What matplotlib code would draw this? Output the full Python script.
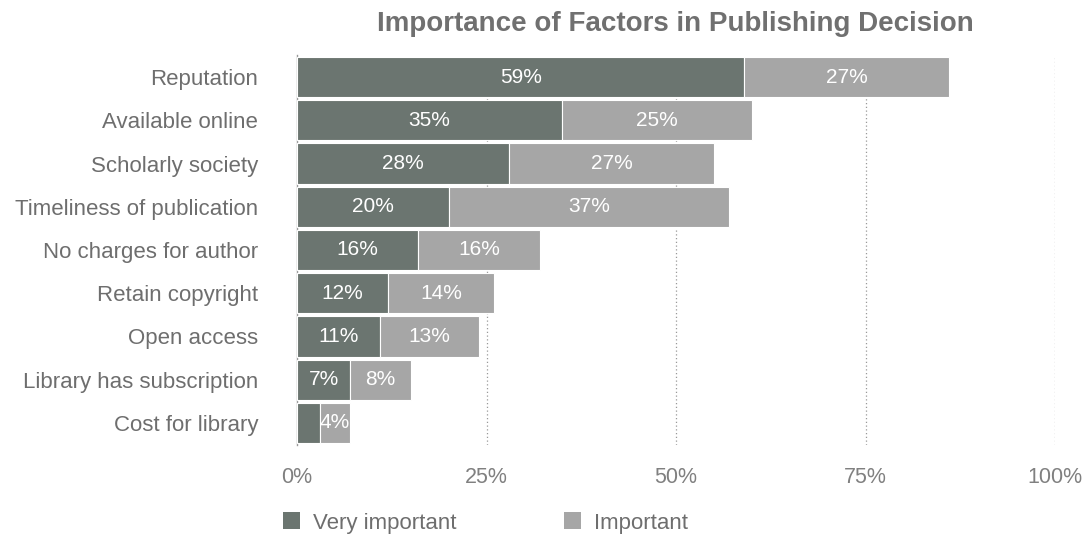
import matplotlib
matplotlib.use("Agg")
import matplotlib.pyplot as plt
from matplotlib.patches import Patch

plt.rcParams['font.family'] = ['Liberation Sans', 'DejaVu Sans']

categories = ["Reputation", "Available online", "Scholarly society",
              "Timeliness of publication", "No charges for author",
              "Retain copyright", "Open access", "Library has subscription",
              "Cost for library"]
very_important = [59, 35, 28, 20, 16, 12, 11, 7, 3]
important = [27, 25, 27, 37, 16, 14, 13, 8, 4]
xticks = [0, 25, 50, 75, 100]
xtick_labels = ["0%", "25%", "50%", "75%", "100%"]

dark = "#6b7570"
light = "#a6a6a6"
txt = "#808080"

fig = plt.figure(figsize=(10.86, 5.36), dpi=100)
ax = fig.add_axes([0.2735, 0.1707, 0.698, 0.7258])

y = list(range(len(categories)))
ax.barh(y, very_important, height=0.93, color=dark, edgecolor="white", linewidth=0.8, zorder=3)
ax.barh(y, important, left=very_important, height=0.93, color=light, edgecolor="white", linewidth=0.8, zorder=3)

for i in y:
    v = very_important[i]
    if v >= 5:
        ax.text(v / 2, i, f"{v}%", ha="center", va="center", color="white", fontsize=15, zorder=4)
    w = important[i]
    ax.text(v + w / 2, i, f"{w}%", ha="center", va="center", color="white", fontsize=15, zorder=4)

ax.set_xlim(0, 100)
ax.set_ylim(len(categories) - 0.5, -0.5)
ax.set_xticks(xticks)
ax.set_xticklabels(xtick_labels, fontsize=15.5, color=txt)
ax.set_yticks(y)
ax.set_yticklabels(categories, fontsize=16, color="#6e6e6e")
ax.tick_params(axis="both", length=0)
ax.tick_params(axis="x", pad=16)
ax.tick_params(axis="y", pad=28)

for s in ["top", "right", "bottom"]:
    ax.spines[s].set_visible(False)
ax.spines["left"].set_color("#999999")
ax.spines["left"].set_linewidth(1)

for xv in xticks[1:]:
    ax.axvline(xv, color="#999999", linestyle=(0, (1, 2)), linewidth=0.9, zorder=1)

fig.text(0.6215, 0.955, "Importance of Factors in Publishing Decision", ha="center", va="center",
         fontsize=20, fontweight="bold", color="#707070")

handles = [Patch(facecolor=dark, edgecolor="none"), Patch(facecolor=light, edgecolor="none")]
leg = fig.legend(handles, ["Very important", "Important"], loc="center left",
                 bbox_to_anchor=(0.242, 0.0243), ncol=2, frameon=False, fontsize=16,
                 handlelength=0.78, handleheight=0.8, handletextpad=0.6, columnspacing=4.8)
for t in leg.get_texts():
    t.set_color("#6e6e6e")

fig.savefig("out.png", dpi=100)
